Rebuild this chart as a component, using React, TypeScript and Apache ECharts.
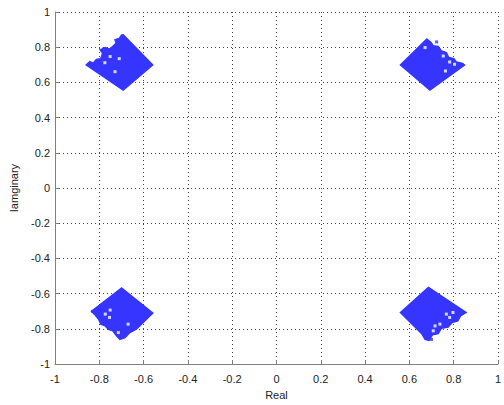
import React, { useEffect, useRef } from "react";
import * as echarts from "echarts";

// Axis settings
const AXIS_MIN = -1;
const AXIS_MAX = 1;
const AXIS_STEP = 0.2;

// Cluster outlines, [real, imaginary]
const clusterUpperLeft: number[][] = [
  [-0.692, 0.87], [-0.559, 0.699], [-0.692, 0.556], [-0.859, 0.699],
  [-0.843, 0.718], [-0.828, 0.709], [-0.813, 0.731], [-0.793, 0.735],
  [-0.785, 0.766], [-0.796, 0.785], [-0.773, 0.798], [-0.754, 0.789],
  [-0.736, 0.808], [-0.724, 0.823], [-0.729, 0.842], [-0.71, 0.85],
  [-0.699, 0.869],
];
const clusterUpperRight: number[][] = [
  [0.679, 0.846], [0.698, 0.827], [0.708, 0.808], [0.73, 0.804],
  [0.745, 0.779], [0.767, 0.77], [0.778, 0.741], [0.801, 0.735],
  [0.812, 0.716], [0.837, 0.709], [0.849, 0.699], [0.693, 0.556],
  [0.56, 0.699],
];
const clusterLowerLeft: number[][] = [
  [-0.699, -0.568], [-0.5585, -0.7105], [-0.633, -0.802], [-0.662, -0.821],
  [-0.684, -0.85], [-0.707, -0.859], [-0.7215, -0.84], [-0.739, -0.811],
  [-0.7585, -0.802], [-0.773, -0.783], [-0.793, -0.773], [-0.803, -0.745],
  [-0.822, -0.716], [-0.835, -0.7],
];
const clusterLowerRight: number[][] = [
  [0.686, -0.564], [0.856, -0.707], [0.831, -0.726], [0.819, -0.754],
  [0.793, -0.764], [0.775, -0.789], [0.745, -0.796], [0.73, -0.827],
  [0.704, -0.834], [0.689, -0.865], [0.671, -0.859], [0.656, -0.827],
  [0.56, -0.707],
];

// Gaps inside the clusters
const holePoints: number[][] = [
  [-0.751, 0.747], [-0.729, 0.661], [-0.71, 0.735], [-0.775, 0.712],
  [0.671, 0.798], [0.763, 0.665], [0.782, 0.716], [0.753, 0.75], [0.804, 0.703],
  [-0.773, -0.716], [-0.754, -0.735], [-0.67, -0.773], [-0.714, -0.821], [-0.751, -0.693],
  [0.767, -0.716], [0.797, -0.707], [0.716, -0.783], [0.738, -0.773], [0.708, -0.811], [0.782, -0.735],
];

// Isolated symbols outside the clusters
const outlierPoints: number[][] = [
  [0.723, 0.83], [-0.78, 0.79], [0.84, 0.7], [-0.83, -0.7], [0.7, -0.86],
];

const BLUE = "#3535ff";
const FONT = "Liberation Sans, Arial, sans-serif";

function clusterSeries(outline: number[][]) {
  return {
    type: "custom",
    coordinateSystem: "cartesian2d",
    data: outline,
    encode: { x: 0, y: 1 },
    clip: true,
    z: 3,
    renderItem: (params: any, api: any) => {
      if (params.dataIndex !== 0) return { type: "group", children: [] };
      const pts = outline.map((p) => api.coord(p));
      return {
        type: "polygon",
        shape: { points: pts },
        style: { fill: BLUE, stroke: BLUE, lineWidth: 1.5 },
      };
    },
  };
}

export default function App() {
  const ref = useRef<HTMLDivElement>(null);
  useEffect(() => {
    if (!ref.current) return;
    const chart = echarts.init(ref.current, null, { renderer: "svg" });
    const axisCommon = {
      type: "value",
      min: AXIS_MIN,
      max: AXIS_MAX,
      interval: AXIS_STEP,
      axisLine: { show: true, onZero: false, lineStyle: { color: "#808080", width: 1 } },
      axisTick: { show: true, inside: true, length: 4, lineStyle: { color: "#808080" } },
      splitLine: { show: true, lineStyle: { color: "#444", type: [1, 3], width: 1 } },
      nameLocation: "middle",
      nameTextStyle: { color: "#222", fontSize: 11, fontFamily: FONT },
    };
    chart.setOption({
      animation: false,
      backgroundColor: "#fff",
      grid: { left: 54, right: 0, top: 12, bottom: 40 },
      xAxis: {
        ...axisCommon,
        name: "Real",
        nameGap: 22,
        axisLabel: { color: "#222", fontSize: 11, fontFamily: FONT, margin: 9 },
      },
      yAxis: {
        ...axisCommon,
        name: "Iamginary",
        nameGap: 36,
        axisLabel: { color: "#222", fontSize: 11, fontFamily: FONT, margin: 5 },
      },
      series: [
        clusterSeries(clusterUpperLeft),
        clusterSeries(clusterUpperRight),
        clusterSeries(clusterLowerLeft),
        clusterSeries(clusterLowerRight),
        {
          type: "scatter",
          data: holePoints,
          symbol: "rect",
          symbolSize: 3,
          itemStyle: { color: "#fff" },
          z: 4,
          silent: true,
        },
        {
          type: "scatter",
          data: outlierPoints,
          symbol: "rect",
          symbolSize: 3,
          itemStyle: { color: BLUE },
          z: 5,
          silent: true,
        },
      ],
    });
    return () => chart.dispose();
  }, []);
  return (
    <div
      ref={ref}
      style={{ position: "fixed", left: 0, top: 0, width: 504, height: 405 }}
    />
  );
}
